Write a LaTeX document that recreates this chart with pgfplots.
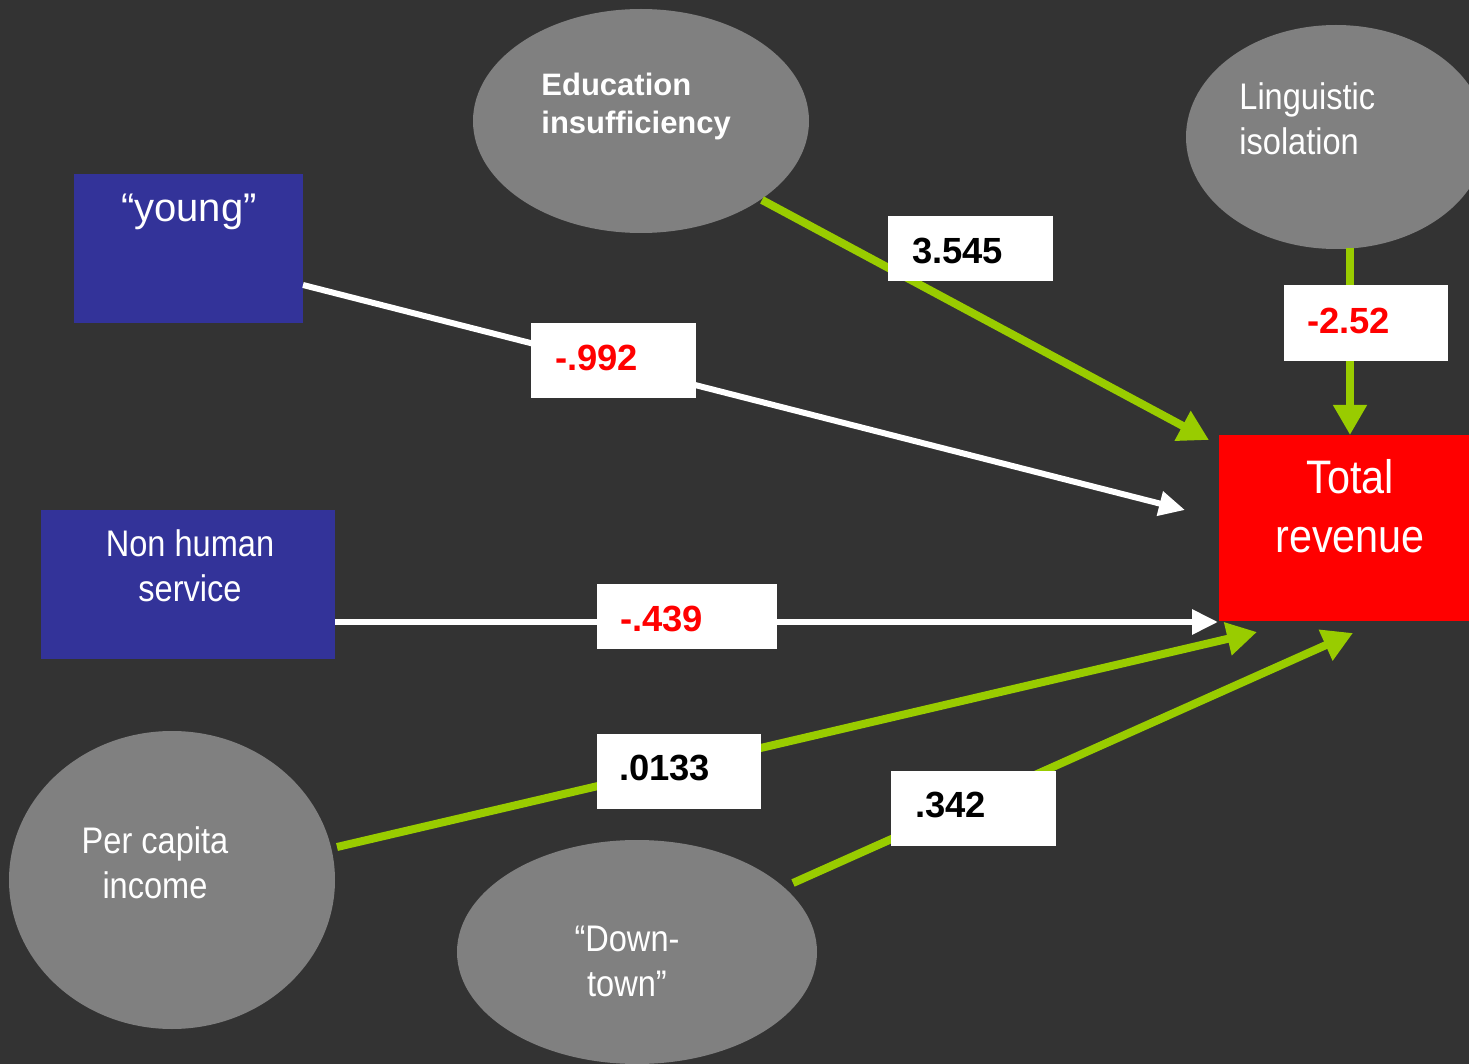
\documentclass[border=0pt]{standalone}
\usepackage{pgfplots}
\pgfplotsset{compat=1.18}
\usepackage{fontspec}
\setmainfont{Liberation Sans}
\newfontfamily\narrow[FakeStretch=0.88]{Liberation Sans}
\usetikzlibrary{arrows.meta}

\definecolor{bg}{HTML}{333333}
\definecolor{node}{HTML}{808080}
\definecolor{navy}{HTML}{333399}
\definecolor{lime}{HTML}{99CC00}

\tikzset{
  grn/.style={lime, line width=4pt, -{Triangle[length=15pt,width=16pt]}},
  wht/.style={white, line width=3pt, -{Triangle[length=13pt,width=12pt]}},
  lbl/.style={fill=white, draw=none},
  coef/.style={anchor=west, font=\bfseries\fontsize{18.2}{22}\selectfont},
}

\begin{document}
\begin{tikzpicture}
\begin{axis}[
    width=734.5pt, height=532pt, scale only axis,
    xmin=0, xmax=1469, ymin=0, ymax=1064,
    y dir=reverse,
    axis lines=none,
    clip=true,
]
% background
\addplot[fill=bg, draw=none] coordinates {(0,0) (1469,0) (1469,1064) (0,1064)} -- cycle;

% variable shapes
\fill[node] (axis cs:641,121) ellipse [x radius=168, y radius=112];
\fill[node] (axis cs:1336,137) ellipse [x radius=150, y radius=112];
\fill[node] (axis cs:172,880) ellipse [x radius=163, y radius=149];
\fill[node] (axis cs:637,952) ellipse [x radius=180, y radius=112];
\addplot[fill=navy, draw=none] coordinates {(74,174) (303,174) (303,323) (74,323)} -- cycle;
\addplot[fill=navy, draw=none] coordinates {(41,510) (335,510) (335,659) (41,659)} -- cycle;
\addplot[fill=red, draw=none] coordinates {(1219,435) (1469,435) (1469,621) (1219,621)} -- cycle;

% paths
\addplot[wht] coordinates {(303,285) (1185,510)};
\addplot[grn] coordinates {(762,200) (1209,440)};
\addplot[grn] coordinates {(1350,248) (1350,435)};
\addplot[wht] coordinates {(335,622) (1218,622)};
\addplot[grn] coordinates {(337,847) (1257,632)};
\addplot[grn] coordinates {(793,883) (1353,633)};

% coefficient boxes
\addplot[lbl] coordinates {(531,323) (696,323) (696,398) (531,398)} -- cycle;
\addplot[lbl] coordinates {(888,216) (1053,216) (1053,281) (888,281)} -- cycle;
\addplot[lbl] coordinates {(1284,285) (1448,285) (1448,361) (1284,361)} -- cycle;
\addplot[lbl] coordinates {(597,584) (777,584) (777,649) (597,649)} -- cycle;
\addplot[lbl] coordinates {(597,734) (761,734) (761,809) (597,809)} -- cycle;
\addplot[lbl] coordinates {(891,771) (1056,771) (1056,846) (891,846)} -- cycle;

\node[coef, red]   at (axis cs:548,358) {-.992};
\node[coef, black] at (axis cs:905,251) {3.545};
\node[coef, red]   at (axis cs:1300,321) {-2.52};
\node[coef, red]   at (axis cs:613,619) {-.439};
\node[coef, black] at (axis cs:612,768) {.0133};
\node[coef, black] at (axis cs:908,805) {.342};

% variable names
\node[white, anchor=west, align=left, inner sep=0pt,
      font=\bfseries\fontsize{15.5}{19}\selectfont] at (axis cs:541,106)
      {Education\\insufficiency};
\node[white, anchor=west, align=left, inner sep=0pt,
      font=\narrow\fontsize{18.5}{22.5}\selectfont] at (axis cs:1239,119)
      {Linguistic\\isolation};
\node[white, align=center, inner sep=0pt,
      font=\fontsize{20}{24}\selectfont] at (axis cs:189,212)
      {“young”};
\node[white, align=center, inner sep=0pt,
      font=\narrow\fontsize{18.5}{22.5}\selectfont] at (axis cs:190,566)
      {Non human\\service};
\node[white, align=center, inner sep=0pt,
      font=\narrow\fontsize{18.5}{22.5}\selectfont] at (axis cs:155,863)
      {Per capita\\income};
\node[white, align=center, inner sep=0pt,
      font=\narrow\fontsize{18.5}{22.5}\selectfont] at (axis cs:627,961)
      {“Down-\\town”};
\node[white, align=center, inner sep=0pt,
      font=\narrow\fontsize{23.5}{29.5}\selectfont] at (axis cs:1350,506)
      {Total\\revenue};
\end{axis}
\pgfresetboundingbox
\useasboundingbox (current axis.south west) rectangle (current axis.north east);
\end{tikzpicture}
\end{document}
